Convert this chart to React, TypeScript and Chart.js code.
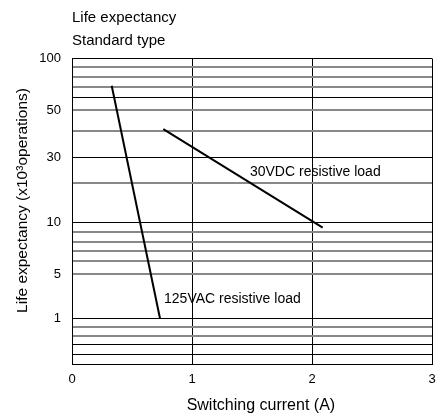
import React, { useEffect, useRef } from 'react';
import { Chart, registerables, Scale } from 'chart.js';

const FONT = '"Liberation Sans", Arial, Helvetica, sans-serif';

// ---- data ----
const xTickValues = [0, 1, 2, 3];
// horizontal grid values of the life-expectancy axis, top to bottom
const yGridValues = [100, 90, 80, 70, 60, 50, 40, 30, 20, 10, 9, 8, 7, 6, 5, 1, 0.9, 0.8, 0.7, 0.6, 0.5];
const yLabeledValues = [100, 50, 30, 10, 5, 1];
const yDarkLineValues = [100, 60, 30, 10, 1, 0.7, 0.6, 0.5];

const vac125Current = [0.331, 0.733];
const vac125Life = [71, 1];
const vdc30Current = [0.761, 2.089];
const vdc30Life = [40.8, 9.43];

const labelTexts = ['30VDC resistive load', '125VAC resistive load'];
const labelCurrent = [1.483, 0.767];
const labelLife = [24.3, 2.77];

// ---- axis design: relative position (0 = top, 1 = bottom) of each grid value ----
const yGridPositions = [0, 0.0288, 0.0596, 0.0923, 0.1283, 0.1686, 0.2363, 0.3247, 0.4085, 0.5362,
  0.5669, 0.5997, 0.6301, 0.6628, 0.7054, 0.8504, 0.8779, 0.9083, 0.9378, 0.9682, 1];

class GridScale extends Scale {
  static id = 'gridwarp';
  static defaults = {};
  determineDataLimits() {
    this.min = Math.min(...yGridValues);
    this.max = Math.max(...yGridValues);
  }
  buildTicks() {
    return yGridValues.map((v) => ({ value: v }));
  }
  getLabelForValue(v: number) {
    return String(v);
  }
  warpFraction(v: number) {
    if (v >= yGridValues[0]) return yGridPositions[0];
    for (let i = 0; i < yGridValues.length - 1; i++) {
      const a = yGridValues[i];
      const b = yGridValues[i + 1];
      if (v <= a && v >= b) {
        const t = (a - v) / (a - b);
        return yGridPositions[i] + t * (yGridPositions[i + 1] - yGridPositions[i]);
      }
    }
    return yGridPositions[yGridPositions.length - 1];
  }
  getPixelForValue(v: number) {
    return (this as any).top + this.warpFraction(v) * (this as any).height;
  }
  getPixelForTick(i: number) {
    return this.getPixelForValue((this as any).ticks[i].value);
  }
  getValueForPixel(p: number) {
    const f = (p - (this as any).top) / (this as any).height;
    for (let i = 0; i < yGridPositions.length - 1; i++) {
      const a = yGridPositions[i];
      const b = yGridPositions[i + 1];
      if (f >= a && f <= b) {
        const t = (f - a) / (b - a);
        return yGridValues[i] + t * (yGridValues[i + 1] - yGridValues[i]);
      }
    }
    return f < 0 ? yGridValues[0] : yGridValues[yGridValues.length - 1];
  }
}

Chart.register(...registerables, GridScale as any);

const labelPlugin = {
  id: 'curveLabels',
  afterDatasetsDraw(chart: any) {
    const { ctx, scales } = chart;
    ctx.save();
    ctx.font = `14px ${FONT}`;
    ctx.fillStyle = '#000';
    ctx.textAlign = 'left';
    ctx.textBaseline = 'middle';
    labelTexts.forEach((t, i) => {
      ctx.fillText(t, scales.x.getPixelForValue(labelCurrent[i]), scales.y.getPixelForValue(labelLife[i]));
    });
    ctx.restore();
  },
};

const NB = '\u00a0';

export default function App() {
  const ref = useRef<HTMLCanvasElement | null>(null);
  useEffect(() => {
    if (!ref.current) return;
    const chart = new Chart(ref.current, {
      type: 'line',
      data: {
        datasets: [
          {
            label: '125VAC resistive load',
            data: vac125Current.map((x, i) => ({ x, y: vac125Life[i] })),
            borderColor: '#000',
            borderWidth: 2,
            pointRadius: 0,
            fill: false,
          },
          {
            label: '30VDC resistive load',
            data: vdc30Current.map((x, i) => ({ x, y: vdc30Life[i] })),
            borderColor: '#000',
            borderWidth: 2,
            pointRadius: 0,
            fill: false,
          },
        ],
      },
      options: {
        animation: false,
        responsive: false,
        layout: { padding: { left: 0, right: 12, top: 0, bottom: 0 } },
        plugins: {
          legend: { display: false },
          tooltip: { enabled: false },
          title: {
            display: true,
            text: 'Life expectancy',
            align: 'start',
            fullSize: false,
            color: '#000',
            font: { family: FONT, size: 15, weight: 'normal' },
            padding: { top: 9, bottom: 0 },
          },
          subtitle: {
            display: true,
            text: 'Standard type',
            align: 'start',
            fullSize: false,
            color: '#000',
            font: { family: FONT, size: 15, weight: 'normal' },
            padding: { top: 5, bottom: 8.5 },
          },
        },
        scales: {
          x: {
            type: 'linear',
            min: 0,
            max: 3,
            afterBuildTicks: (s: any) => {
              s.ticks = xTickValues.map((v) => ({ value: v }));
            },
            afterFit: (s: any) => {
              s.height = 55;
            },
            ticks: { color: '#000', font: { family: FONT, size: 13 }, padding: 8, maxRotation: 0 },
            grid: { color: '#000', lineWidth: 1, drawTicks: false },
            border: { display: true, color: '#000', width: 1 },
            title: {
              display: true,
              text: NB.repeat(4) + 'Switching current (A)',
              color: '#000',
              font: { family: FONT, size: 16 },
              padding: { top: 0, bottom: 4 },
            },
          },
          y: {
            type: 'gridwarp' as any,
            position: 'left',
            afterFit: (s: any) => {
              s.width = 72;
            },
            ticks: {
              color: '#000',
              font: { family: FONT, size: 13 },
              padding: 11,
              autoSkip: false,
              callback: (v: any) => (yLabeledValues.includes(v) ? String(v) : ''),
            },
            grid: {
              drawTicks: false,
              color: (c: any) => (yDarkLineValues.includes(c.tick?.value) ? '#000' : '#888'),
              lineWidth: (c: any) => (yDarkLineValues.includes(c.tick?.value) ? 1 : 2),
            },
            border: { display: true, color: '#000', width: 1 },
            title: {
              display: true,
              text: NB.repeat(5) + 'Life expectancy (x10³operations)',
              color: '#000',
              font: { family: FONT, size: 15.5 },
              padding: { top: 13, bottom: 0 },
            },
          } as any,
        },
      },
      plugins: [labelPlugin],
    } as any);
    return () => chart.destroy();
  }, []);
  return (
    <div style={{ position: 'fixed', left: 0, top: 0, width: 444, height: 419, background: '#fff' }}>
      <canvas ref={ref} width={444} height={419} />
    </div>
  );
}
